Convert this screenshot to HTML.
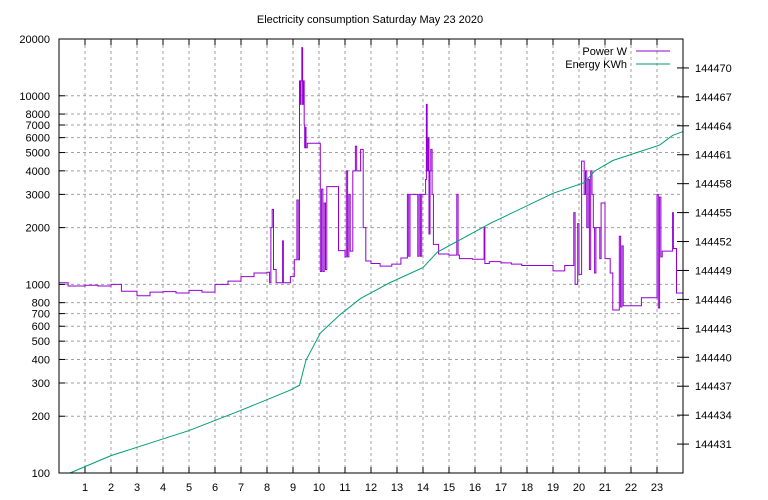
<!DOCTYPE html>
<html><head><meta charset="utf-8"><style>
body{margin:0;background:#fff}
svg{display:block;font-family:"Liberation Sans",sans-serif;font-size:11px}
</style></head><body>
<svg id="chart" width="768" height="500">
<text x="370" y="23" text-anchor="middle" font-size="11">Electricity consumption Saturday May 23 2020</text>
<g id="grid"></g><g id="axes"></g><g id="series"></g>
<rect x="59" y="39" width="624" height="434" fill="none" stroke="#000"/>
<g>
<text x="627" y="55" text-anchor="end">Power W</text>
<line x1="636" y1="51" x2="670" y2="51" stroke="#9400d3"/>
<text x="627" y="68" text-anchor="end">Energy KWh</text>
<line x1="636" y1="64" x2="670" y2="64" stroke="#009e73"/>
</g>
</svg>
<script>
const xTicks=[1,2,3,4,5,6,7,8,9,10,11,12,13,14,15,16,17,18,19,20,21,22,23];
const yTicks=[100,200,300,400,500,600,700,800,1000,2000,3000,4000,5000,6000,7000,8000,10000,20000];
const y2Ticks=[144431,144434,144437,144440,144443,144446,144449,144452,144455,144458,144461,144464,144467,144470];
const powerHours=[0,0.35,1.0,1.5,2.0,2.4,3.0,3.5,4.0,4.5,5.0,5.5,6.0,6.5,7.0,7.5,8.0,8.1,8.15,8.2,8.25,8.35,8.6,8.63,8.9,9.05,9.15,9.2,9.25,9.28,9.31,9.34,9.37,9.4,9.43,9.45,9.47,9.5,9.55,9.6,10.05,10.1,10.15,10.2,10.25,10.3,10.75,11.0,11.05,11.1,11.15,11.2,11.3,11.4,11.45,11.6,11.7,11.8,12.0,12.35,12.8,13.15,13.4,13.45,13.5,13.8,13.85,13.9,13.95,14.1,14.13,14.16,14.2,14.23,14.27,14.3,14.35,14.4,14.6,15.0,15.3,15.35,15.4,15.9,16.35,16.38,16.55,17.0,17.4,17.8,19.0,19.45,19.8,19.85,19.95,20.0,20.1,20.2,20.25,20.3,20.35,20.4,20.45,20.5,20.55,20.6,20.65,20.8,20.85,21.0,21.2,21.3,21.55,21.6,21.65,21.7,21.75,22.4,23.0,23.05,23.1,23.15,23.2,23.6,23.63,23.75];
const powerValues=[1020,980,990,980,1000,920,870,910,915,900,930,910,1000,1040,1100,1150,1160,1020,2000,2500,1200,1020,1700,1020,1100,1350,2800,1350,12000,9000,12000,18000,9000,12000,7000,5300,6800,5300,5600,5600,1170,3200,1170,2700,1200,3300,1510,1400,4000,1400,3000,1500,4000,5400,4000,5200,2000,1330,1290,1250,1280,1380,3000,1410,3000,1410,3000,1410,3000,3600,9000,4000,6000,1850,4000,5200,3000,1630,1450,1430,3000,1430,1370,1360,2000,1290,1320,1300,1280,1260,1180,1260,2400,1000,2100,1130,4500,3000,4000,2000,3600,1200,4000,3000,2000,1150,2000,1370,2700,1370,1150,731,1800,760,1600,770,770,850,3000,750,2900,1400,1500,2400,1550,900];
const energyHours=[0.42,2,5,7,8.9,9.25,9.5,10.05,10.8,11.6,12.7,14,14.55,16.6,19,20.2,20.6,21.3,23.1,23.6,24];
const energyValues=[144428.0,144429.8,144432.4,144434.5,144436.6,144437.1,144439.7,144442.5,144444.4,144446.1,144447.7,144449.3,144450.9,144453.9,144457,144458.1,144459.3,144460.4,144462,144463,144463.4];
const L=59,R=683,T=39,B=473;
const xS=h=>L+h/24*(R-L);
const yS=v=>T+(Math.log10(20000)-Math.log10(v))/(Math.log10(20000)-2)*(B-T);
const y2S=v=>T+(144473-v)/(144473-144428)*(B-T);
const NS='http://www.w3.org/2000/svg';
function mk(tag,attrs,parent){const e=document.createElementNS(NS,tag);for(const k in attrs)e.setAttribute(k,attrs[k]);parent.appendChild(e);return e;}
const grid=document.getElementById('grid'),axes=document.getElementById('axes'),series=document.getElementById('series');
xTicks.forEach(h=>{const x=xS(h);
 const g=mk('line',{x1:x,y1:T,x2:x,y2:B,stroke:'#a0a0a0','stroke-dasharray':'3,3'},grid);
 
 
 mk('line',{x1:x,y1:B,x2:x,y2:B-6,stroke:'#000'},axes);
 mk('line',{x1:x,y1:T,x2:x,y2:T+6,stroke:'#000'},axes);
 const t=mk('text',{x:x,y:B+18,'text-anchor':'middle'},axes);t.textContent=h;
 
 
});
yTicks.forEach(v=>{const y=yS(v);
 if(v>100&&v<20000){const g=mk('line',{x1:L,y1:y,x2:R,y2:y,stroke:'#a0a0a0','stroke-dasharray':'3,3'},grid);
 
 }
 mk('line',{x1:L,y1:y,x2:L+6,y2:y,stroke:'#000'},axes);
 const t=mk('text',{x:L-9,y:y+4,'text-anchor':'end'},axes);t.textContent=v;
 
 
});
y2Ticks.forEach(v=>{const y=y2S(v);
 mk('line',{x1:R-6,y1:y,x2:R+6,y2:y,stroke:'#000'},axes);
 const t=mk('text',{x:R+12,y:y+4},axes);t.textContent=v;
 
 
});
let d='';
for(let i=0;i<powerHours.length;i++){const x=xS(powerHours[i]),y=yS(powerValues[i]);
 if(i===0)d+='M'+x+','+y;else d+='H'+x+'V'+y;}
d+='H'+xS(24);
const p=mk('path',{d:d,fill:'none',stroke:'#9400d3','stroke-width':1},series);


const e=mk('polyline',{points:energyHours.map((h,i)=>xS(h)+','+y2S(energyValues[i])).join(' '),fill:'none',stroke:'#009e73','stroke-width':1},series);


</script>
</body></html>
